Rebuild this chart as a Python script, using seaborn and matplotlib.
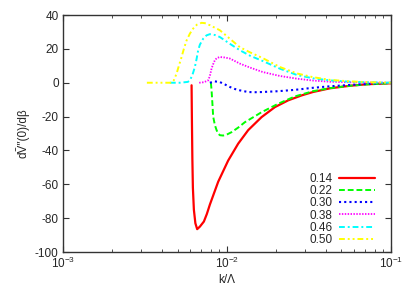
import matplotlib
matplotlib.use("Agg")
import matplotlib.pyplot as plt
import pandas as pd
import seaborn as sns

# values (k/Lambda, dV''(0)/dbeta)
k_014 = [0.006092, 0.006118, 0.006160, 0.006205, 0.006292, 0.006425, 0.006590, 0.006846,
         0.007241, 0.007551, 0.007876, 0.008851, 0.010180, 0.011720, 0.013490, 0.016280,
         0.019630, 0.023650, 0.028540, 0.033450, 0.042460, 0.056230, 0.071400, 0.1]
v_014 = [-1.5, -20, -45, -62, -75, -83, -86.5, -85, -82, -77.5, -72, -58.5, -46, -36, -28,
         -20.3, -14.4, -10.4, -7.5, -5.5, -3.3, -1.8, -0.9, -0.3]

k_022 = [0.007988, 0.008066, 0.008158, 0.008251, 0.008449, 0.008654, 0.008851, 0.009064,
         0.009493, 0.01, 0.010680, 0.011720, 0.012880, 0.014820, 0.016280, 0.020560,
         0.025980, 0.033450, 0.042460, 0.056230, 0.071400, 0.1]
v_022 = [0, -4.5, -12, -20, -25, -28, -30, -31, -31.2, -30.6, -29.2, -26.5, -23.3, -19.8,
         -17.4, -12.4, -8.1, -5, -3.2, -1.8, -1, -0.3]

k_030 = [0.007876, 0.008449, 0.009064, 0.009723, 0.010430, 0.011190, 0.012000, 0.013490,
         0.014820, 0.016280, 0.020560, 0.025980, 0.033450, 0.042460, 0.056230, 0.071400, 0.1]
v_030 = [0, 0.8, 0.4, -1, -2.5, -3.7, -4.5, -5.5, -5.6, -5.5, -5, -4.2, -3, -2.1, -1.3, -0.7, 0]

k_038 = [0.006779, 0.007241, 0.007691, 0.007876, 0.008066, 0.008251, 0.008449, 0.008690,
         0.009064, 0.009723, 0.010430, 0.012000, 0.013810, 0.016580, 0.021050, 0.026720,
         0.033450, 0.042460, 0.056230, 0.074470, 0.1]
v_038 = [0, 0.3, 1.4, 4, 8.4, 11, 13.3, 14.6, 15.2, 14.9, 14.3, 11.3, 9, 6.3, 4, 2.4, 1.3,
         0.6, 0.25, 0.1, 0]

k_046 = [0.004492, 0.005169, 0.005783, 0.005948, 0.006160, 0.006381, 0.006534, 0.006683,
         0.006846, 0.007170, 0.007519, 0.007876, 0.008449, 0.009064, 0.010430, 0.012000,
         0.013810, 0.016580, 0.021050, 0.026720, 0.033450, 0.042460, 0.056230, 0.074470, 0.1]
v_046 = [0, 0, 0.5, 1.4, 4.5, 9.3, 14, 19.2, 22.5, 26, 28, 28.7, 28.2, 27, 23, 19.2, 16,
         12.8, 8.3, 4.6, 2.6, 1.4, 0.6, 0.2, 0]

k_050 = [0.003252, 0.003904, 0.004601, 0.004751, 0.004935, 0.005097, 0.005294, 0.005467,
         0.005680, 0.005948, 0.006230, 0.006563, 0.007010, 0.007343, 0.007876, 0.009064,
         0.010430, 0.012000, 0.013810, 0.016580, 0.021050, 0.026720, 0.033450, 0.042460,
         0.056230, 0.074470, 0.1]
v_050 = [0, 0, 0, 1.5, 5.4, 10, 15.2, 20, 25, 29, 32, 34.3, 35.4, 35.2, 34, 31, 26, 21,
         18, 14.5, 9.3, 5.5, 3.3, 1.7, 0.8, 0.3, 0]

series = [
    ("0.14", k_014, v_014, "#ff0000", "-", 1.6),
    ("0.22", k_022, v_022, "#00ff00", (0, (3, 1.5)), 1.4),
    ("0.30", k_030, v_030, "#0000ff", (0, (1, 1.5)), 1.5),
    ("0.38", k_038, v_038, "#ff00ff", (0, (0.8, 0.8)), 1.3),
    ("0.46", k_046, v_046, "#00ffff", (0, (3, 1.5, 1, 1.5)), 1.4),
    ("0.50", k_050, v_050, "#ffff00", (0, (3, 1.5, 1, 1.5, 1, 1.5)), 1.4),
]

sns.set_theme(style="ticks")
plt.rcParams["font.family"] = ["Liberation Sans", "DejaVu Sans"]
plt.rcParams["axes.unicode_minus"] = False

fig = plt.figure(figsize=(4.11, 2.89), dpi=100)
ax = fig.add_axes([0.153, 0.128, 0.798, 0.820])

for label, ks, vs, color, ls, lw in series:
    df = pd.DataFrame({"k": ks, "v": vs})
    sns.lineplot(data=df, x="k", y="v", ax=ax, color=color, linestyle=ls,
                 linewidth=lw, label=label, estimator=None, sort=True)

ax.set_xscale("log")
ax.set_xlim(1e-3, 1e-1)
ax.set_ylim(-100, 40)
ax.set_yticks(range(-100, 41, 20))
ax.set_xlabel("k/\u039b", fontsize=8.5, labelpad=2)
ax.set_ylabel("d\u1e7c\u2033(0)/d\u03b2", fontsize=8.5, labelpad=4)

for s in ax.spines.values():
    s.set_color("#333333")
    s.set_linewidth(1.0)
ax.tick_params(which="major", direction="in", length=4, width=0.8, top=True, right=True,
               labelsize=8.5, color="#333333", pad=3)
ax.tick_params(which="minor", direction="in", length=2, width=0.6, top=True, right=True,
               color="#333333")

leg = ax.legend(loc="lower right", bbox_to_anchor=(0.965, 0.005), frameon=False,
                fontsize=8.5, markerfirst=False, handlelength=3.0, handletextpad=0.6,
                labelspacing=0.02, borderaxespad=0)

fig.savefig("out.png", dpi=100)
